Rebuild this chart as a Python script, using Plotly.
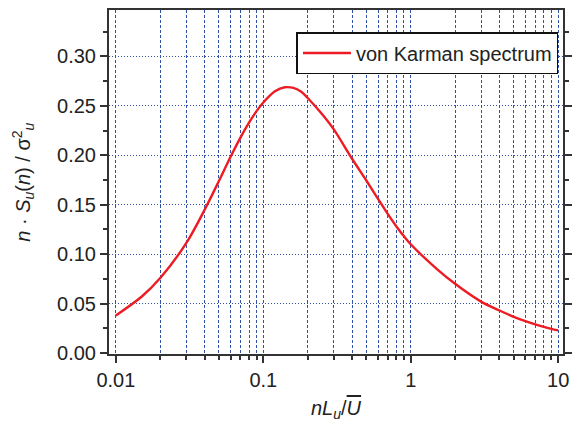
import plotly.graph_objects as go

# Values
freq = [0.01, 0.015, 0.02, 0.03, 0.04, 0.05, 0.06, 0.07, 0.08, 0.09, 0.1,
        0.12, 0.14, 0.16, 0.18, 0.2, 0.25, 0.3, 0.4, 0.5, 0.6, 0.7, 0.8,
        0.9, 1.0, 1.5, 2.0, 3.0, 4.0, 5.0, 6.0, 7.0, 8.0, 9.0, 10.0]
spectrum = [0.038, 0.0572, 0.0759, 0.1111, 0.1449, 0.174, 0.1985, 0.2179,
            0.233, 0.2447, 0.2534, 0.2647, 0.2688, 0.2682, 0.2645, 0.258,
            0.2418, 0.2265, 0.1965, 0.1745, 0.156, 0.1405, 0.128, 0.118,
            0.110, 0.0852, 0.0700, 0.0520, 0.0430, 0.0366, 0.0322, 0.0290,
            0.0265, 0.0245, 0.0229]

x_major = [0.01, 0.1, 1, 10]
x_major_text = ["0.01", "0.1", "1", "10"]
x_minor = [m * d for d in [0.01, 0.1, 1] for m in range(2, 10)]

series_name = "von Karman spectrum"

FONT = "Liberation Sans, Arial, sans-serif"
GRID = "#2f52a8"
AXIS = "#333333"
TXT = "#222222"

fig = go.Figure()
fig.add_trace(go.Scatter(
    x=freq, y=spectrum, mode="lines", name=series_name,
    line=dict(color="#ed1c24", width=2.4, shape="spline", smoothing=0.9),
))

fig.update_layout(
    width=577, height=425,
    margin=dict(l=109, r=5, t=10, b=71),
    paper_bgcolor="white", plot_bgcolor="white",
    font=dict(family=FONT, size=20, color=TXT),
    showlegend=True,
    legend=dict(
        x=0.99, y=0.936, xanchor="right", yanchor="top",
        bgcolor="white", bordercolor="#111111", borderwidth=1.5,
        font=dict(family=FONT, size=20, color=TXT),
        tracegroupgap=0, itemwidth=48,
    ),
)

fig.update_xaxes(
    type="log", range=[-2.0466, 1.033],
    tickmode="array", tickvals=x_major, ticktext=x_major_text,
    ticks="outside", ticklen=7, tickwidth=1.5, tickcolor=AXIS,
    showline=True, linecolor=AXIS, linewidth=2, mirror=True,
    showgrid=True, gridcolor=GRID, gridwidth=1, griddash="3px,2px",
    zeroline=False,
    tickfont=dict(family=FONT, size=20, color=TXT),
    minor=dict(tickmode="array", tickvals=x_minor, ticks="outside",
               ticklen=4, tickwidth=1.5, tickcolor=AXIS,
               showgrid=True, gridcolor=GRID, gridwidth=1, griddash="3px,2px"),
)

fig.update_yaxes(
    range=[-0.001, 0.347],
    tickmode="linear", tick0=0, dtick=0.05, tickformat=".2f",
    ticks="outside", ticklen=7, tickwidth=1.5, tickcolor=AXIS,
    showline=True, linecolor=AXIS, linewidth=2, mirror="ticks",
    showgrid=True, gridcolor=GRID, gridwidth=1, griddash="1px,2px",
    zeroline=False,
    tickfont=dict(family=FONT, size=20, color=TXT),
    minor=dict(tick0=0, dtick=0.025, ticks="outside", ticklen=4,
               tickwidth=1.5, tickcolor=AXIS, showgrid=False),
)

fig.add_annotation(
    xref="paper", yref="paper", x=-0.19, y=0.5, xanchor="center", yanchor="middle",
    textangle=-90, showarrow=False,
    text="<i>n</i> · <i>S<sub>u</sub></i>(<i>n</i>) / σ<sup>2</sup><sub><i>u</i></sub>",
    font=dict(family=FONT, size=20, color=TXT),
)
fig.add_annotation(
    xref="paper", yref="paper", x=0.5, y=-0.16, xanchor="center", yanchor="middle",
    showarrow=False,
    text="<i>nL<sub>u</sub></i>/<span style=\"text-decoration:overline\"><i>U</i></span>",
    font=dict(family=FONT, size=20, color=TXT),
)

fig.write_html("out.html")
